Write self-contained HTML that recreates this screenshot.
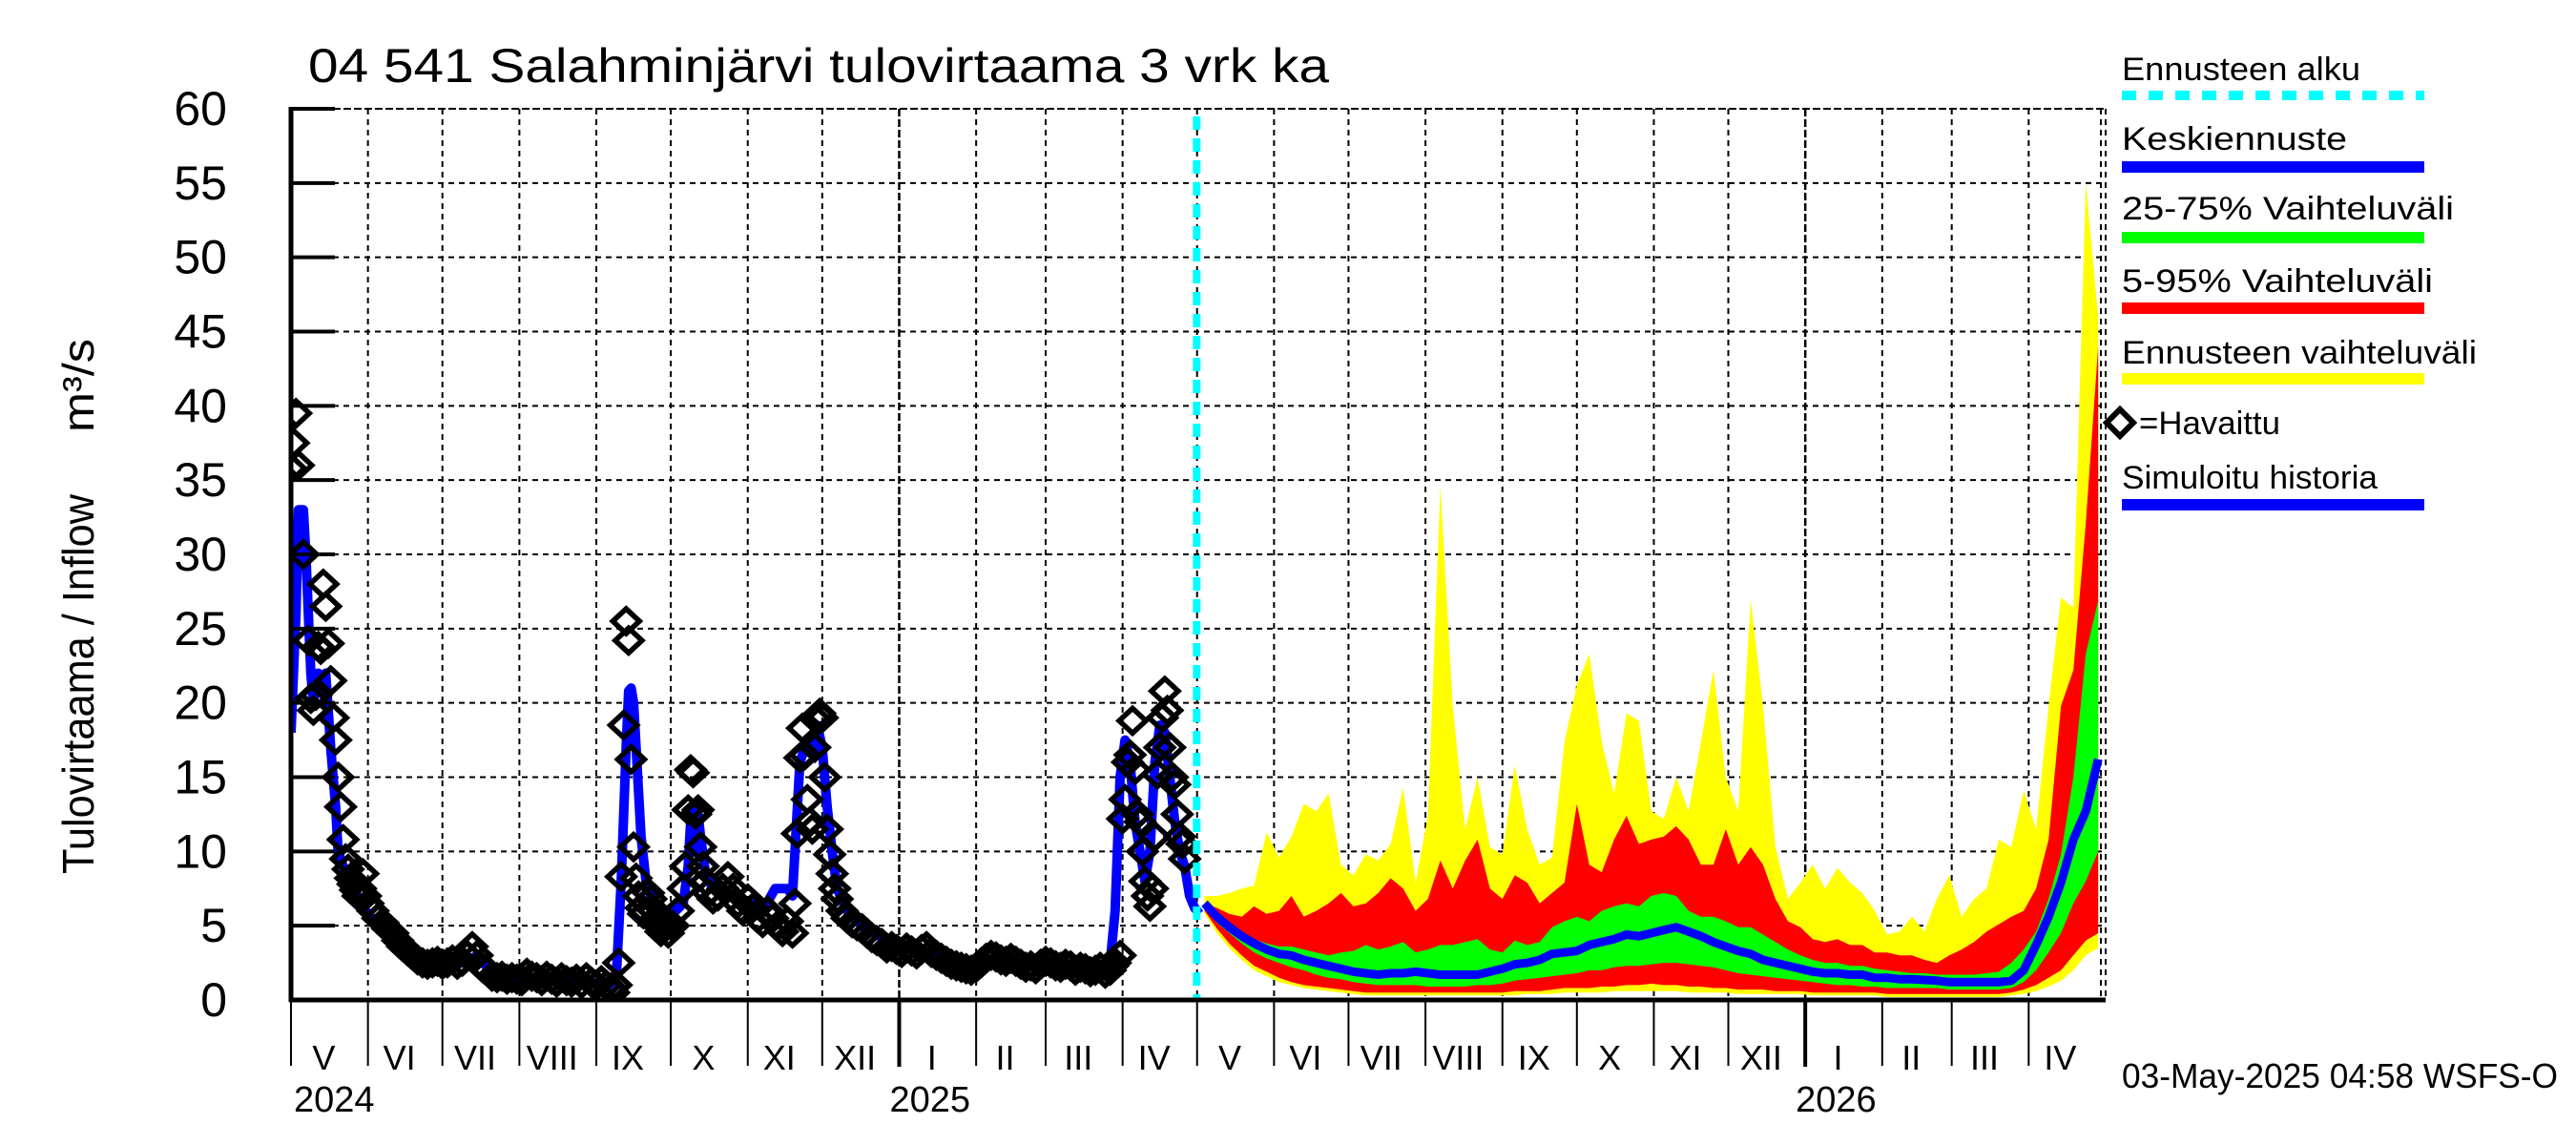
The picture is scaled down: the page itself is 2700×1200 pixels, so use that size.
<!DOCTYPE html>
<html><head><meta charset="utf-8">
<style>
html,body{margin:0;padding:0;background:#fff;}
svg{display:block;font-family:"Liberation Sans",sans-serif;}
</style></head>
<body>
<svg id="chart" width="2700" height="1200" viewBox="0 0 2700 1200" xmlns="http://www.w3.org/2000/svg">
<rect x="0" y="0" width="2700" height="1200" fill="#fff"/>
<defs><clipPath id="plotclip"><rect x="305" y="114" width="1902" height="934"/></clipPath></defs>
<text x="323" y="86" font-size="50" textLength="1070" lengthAdjust="spacingAndGlyphs">04 541 Salahminjärvi tulovirtaama 3 vrk ka</text>
<text transform="translate(98,916) rotate(-90)" font-size="46" textLength="398" lengthAdjust="spacingAndGlyphs">Tulovirtaama / Inflow</text>
<text transform="translate(98,453) rotate(-90)" font-size="46" textLength="98" lengthAdjust="spacingAndGlyphs">m³/s</text>
<g id="grid"></g>
<g id="bands" clip-path="url(#plotclip)"></g>
<g id="lines" clip-path="url(#plotclip)"></g>
<g id="axes"></g>
<g id="legend">
  <text x="2224" y="84" font-size="34" textLength="250" lengthAdjust="spacingAndGlyphs">Ennusteen alku</text>
  <line x1="2224" y1="100" x2="2541" y2="100" stroke="#00ffff" stroke-width="10" stroke-dasharray="15 13"/>
  <text x="2224" y="157" font-size="34" textLength="236" lengthAdjust="spacingAndGlyphs">Keskiennuste</text>
  <rect x="2224" y="169" width="317" height="12" fill="#0000ff"/>
  <text x="2224" y="230" font-size="34" textLength="348" lengthAdjust="spacingAndGlyphs">25-75% Vaihteluväli</text>
  <rect x="2224" y="243" width="317" height="12" fill="#00ff00"/>
  <text x="2224" y="306" font-size="34" textLength="326" lengthAdjust="spacingAndGlyphs">5-95% Vaihteluväli</text>
  <rect x="2224" y="317" width="317" height="12" fill="#ff0000"/>
  <text x="2224" y="381" font-size="34" textLength="372" lengthAdjust="spacingAndGlyphs">Ennusteen vaihteluväli</text>
  <rect x="2224" y="391" width="317" height="12" fill="#ffff00"/>
  <path d="M2222,429 L2236,443 L2222,457 L2208,443 Z" fill="none" stroke="#000" stroke-width="6"/>
  <text x="2242" y="455" font-size="34" textLength="148" lengthAdjust="spacingAndGlyphs">=Havaittu</text>
  <text x="2224" y="512" font-size="34" textLength="268" lengthAdjust="spacingAndGlyphs">Simuloitu historia</text>
  <rect x="2224" y="523" width="317" height="12" fill="#0000ff"/>
</g>
<text x="2224" y="1140" font-size="36" textLength="457" lengthAdjust="spacingAndGlyphs">03-May-2025 04:58 WSFS-O</text>
</svg>
<script>
// ---- data ----
const yTicks = [0,5,10,15,20,25,30,35,40,45,50,55,60];
const monthLabels = ['V','VI','VII','VIII','IX','X','XI','XII','I','II','III','IV','V','VI','VII','VIII','IX','X','XI','XII','I','II','III','IV'];
const yearLabels = ['2024','2025','2026'];
const forecastStartDay = 366;

const obsDays = [0,1,2,3,5,7,8,9,10,11,12,13,14,15,16,17,18,19,20,21,22,23,24,25,26,27,28,29,30,31,33,35,37,39,41,43,45,47,49,51,53,55,57,59,61,63,65,67,69,71,73,75,77,79,81,83,85,87,89,91,93,95,97,99,101,103,105,107,109,111,113,115,117,119,121,123,125,127,129,130,131,132,133,134,135,136,137,138,139,140,141,142,143,144,145,146,147,148,149,150,151,152,154,156,158,159,160,161,162,163,164,165,166,167,168,170,172,174,176,178,180,182,184,186,188,190,192,194,196,198,200,202,203,204,205,206,207,208,209,210,211,212,213,214,215,216,217,218,219,220,222,224,226,228,230,232,234,236,238,240,242,244,246,248,250,252,254,256,258,260,262,264,266,268,270,272,274,276,278,280,282,284,286,288,290,292,294,296,298,300,302,304,306,308,310,312,314,316,318,320,322,324,326,328,330,331,332,334,335,336,337,338,339,340,341,342,343,344,345,346,347,348,349,350,351,352,353,354,355,356,357,358,359,360];
const obsVals = [35.8,37.5,39.5,36,30,24.2,20.3,19.5,20.5,23.8,23.6,28,26.5,24,21.5,19,17.5,15,13,10.8,9.5,8.8,8.2,7.8,7.4,7,7.5,8.5,7,6.5,6,5.5,5.2,4.8,4.5,4,3.6,3.3,3,2.7,2.5,2.4,2.5,2.6,2.4,2.5,2.7,2.4,2.6,3,3.6,3,2.2,2,1.6,1.5,1.6,1.4,1.5,1.4,1.3,1.8,1.6,1.5,1.3,1.6,1.4,1.2,1.5,1.3,1.2,1.4,1.1,1.5,1.2,1,1.3,1,0.8,0.5,1,2.5,8.3,18.5,25.5,24.2,16.2,10.3,8.2,7,6.2,5.8,6.5,7.2,6.8,6,5.5,5,4.6,5.5,5,4.5,5,6,7.5,9,12.8,15.5,15.3,12.5,12.8,10.3,9,8,7.2,6.8,7,7.5,8.3,7.5,6.5,6,6.8,6.2,5.5,5.2,6,5.5,5,4.6,5.3,4.5,6.5,11.2,16.3,18.3,16.5,13.5,12,11.5,17,18.8,19.3,19,15,11.5,9.8,8.5,7.5,6.8,6,5.5,5.2,5,4.8,4.5,4.2,4,3.8,3.5,3.6,3.4,3.2,3.5,3.3,3.1,3.4,3.6,3.2,3,2.8,2.6,2.4,2.3,2.2,2.1,2,2.2,2.5,2.8,3,2.9,2.7,2.6,2.8,2.6,2.4,2.2,2.3,2.1,2.4,2.6,2.5,2.3,2.2,2.4,2.3,2,2.2,2.1,1.9,2,2.2,1.8,2,2.3,2.5,3,12.2,13.5,16,16.5,18.8,15.5,12.5,12,10,8,7,6.3,7.5,11,15.2,17,19,20.8,19.5,17,15,14.5,12.5,11,10.5,9.5,10];

const simDays = [0,2,3,5,6,8,9,11,12,14,16,18,19,21,25,30,35,40,45,50,55,60,70,75,80,90,100,110,120,128,131,133,135,136,137,138,140,141,143,145,150,155,158,160,161,162,163,164,165,167,170,180,190,195,200,202,203,205,207,210,212,214,216,218,220,224,230,240,250,260,270,280,290,300,310,320,330,332,334,336,338,340,342,344,346,348,350,352,354,356,358,360,362,364,366];
const simVals = [18,26,33,33,30,22,20,22,21,22,17,13,10,9,7.5,6,5,4,3.5,3,2.5,2.5,2.5,3,2,1.5,1.5,1.3,1.2,1,1.5,8,17,20.8,21,20,14,11,8,7,6,6,6.5,9,12,13,10,12.5,11,8.5,7.5,7,6,7.5,7.5,7,10,16,17,16.5,18.5,17,13,10,7.5,6,5,4,3.5,3,2.5,2.5,2.5,2.5,2.3,2,2.5,6,15,17.5,16,12,10,8,10,16,18.5,18,15,12,10,9,7,6.2,5.8];

const fcDays = [368,373,378,383,388,393,398,403,408,413,418,423,428,433,438,443,448,453,458,463,468,473,478,483,488,493,498,503,508,513,518,523,528,533,538,543,548,553,558,563,568,573,578,583,588,593,598,603,608,613,618,623,628,633,638,643,648,653,658,663,668,673,678,683,688,693,698,703,708,713,718,723,728];
const fcMax = [7,7,7.2,7.5,7.7,11.3,9.6,11,13.2,12.7,13.9,9.1,8.4,9.8,9.4,10.5,14.3,7.9,12.4,34.6,19.8,11.5,15,10.3,9.8,15.8,11.5,9.1,9.6,17.4,21.2,23.3,17.4,13.9,19.3,18.8,12.7,12.2,15,12.7,17.4,22.2,15,12.7,26.9,19.8,10.3,6.8,7.9,9.1,7.5,8.9,7.9,7.2,6,4.4,4.6,5.6,4.6,6.8,8.4,5.6,6.8,7.5,10.8,10.3,14.1,11.5,19.8,27.1,26.4,55,46];
const fcP95 = [6.5,6.2,5.8,5.6,6.3,5.8,6,7,5.6,6,6.5,7.2,6.3,6.5,7.2,8.2,7.5,6,6.8,9.4,7.5,9.4,10.8,7.5,6.8,8.4,7.9,6.5,7.2,7.9,13.2,9.1,8.6,10.8,12.4,10.5,10.8,11,11.7,10.8,9.1,9.1,11.5,9.1,10.3,9.1,6.8,5.3,4.9,4.1,3.9,4.1,3.7,3.7,3.2,3.2,3,3,2.7,2.5,3,3.4,3.9,4.6,5.1,5.6,6,7.5,10.8,19.8,22.2,32.1,44];
const fcP75 = [6.3,5.6,5.1,4.6,4.1,3.8,3.6,3.6,3.4,3.2,3,3.2,3.3,3.7,3.4,3.6,3.9,3.2,3.4,3.7,3.7,3.9,4.1,3.4,3.2,4,3.7,3.9,4.9,5.3,5.6,5.3,6,6.3,6.5,6.3,7,7.2,7,6,5.6,5.6,5.3,4.9,4.9,4.4,3.9,3.4,3,2.7,2.5,2.5,2.3,2.3,2.1,2,1.9,1.8,1.8,1.7,1.7,1.7,1.7,1.8,1.9,2.5,3.4,4.6,6.8,9.8,15,23.3,26.9];
const fcMedian = [6.5,5.6,4.9,4.3,3.8,3.4,3.1,3,2.7,2.5,2.3,2.1,1.9,1.8,1.7,1.8,1.8,1.9,1.8,1.7,1.7,1.7,1.7,1.9,2.1,2.4,2.5,2.7,3.1,3.2,3.3,3.7,3.9,4.1,4.4,4.3,4.5,4.7,4.9,4.6,4.3,3.9,3.6,3.3,3.1,2.7,2.5,2.3,2.1,1.9,1.8,1.8,1.7,1.7,1.5,1.5,1.4,1.4,1.35,1.3,1.2,1.2,1.2,1.2,1.2,1.3,2,3.7,5.6,7.9,10.8,12.7,16.2];
const fcP25 = [6.2,5.2,4.5,3.8,3.2,2.8,2.5,2.2,2,1.7,1.5,1.4,1.2,1.1,1,1,1,1,0.9,0.9,0.9,0.9,1,1,1.1,1.3,1.4,1.5,1.6,1.7,1.8,2,2,2.2,2.3,2.3,2.4,2.5,2.5,2.4,2.3,2.2,2,1.8,1.7,1.6,1.5,1.4,1.3,1.2,1.1,1,1,0.9,0.9,0.8,0.8,0.8,0.8,0.8,0.7,0.7,0.7,0.7,0.7,0.8,1.2,2,3.2,4.5,6.5,8,10];
const fcP5 = [6,4.8,3.8,3,2.3,1.9,1.5,1.2,1,0.9,0.8,0.7,0.6,0.5,0.5,0.5,0.5,0.5,0.5,0.5,0.5,0.5,0.5,0.5,0.5,0.6,0.6,0.6,0.7,0.8,0.8,0.8,0.9,0.9,1,1,1.1,1,1,0.9,0.9,0.8,0.8,0.7,0.7,0.7,0.6,0.6,0.6,0.5,0.5,0.5,0.5,0.5,0.5,0.4,0.4,0.4,0.4,0.4,0.4,0.4,0.4,0.4,0.4,0.5,0.7,1,1.5,2,3,4,4.5];
const fcMin = [5.8,4.5,3.5,2.7,2,1.6,1.2,1,0.8,0.7,0.6,0.5,0.4,0.3,0.3,0.3,0.3,0.3,0.3,0.3,0.3,0.3,0.3,0.3,0.3,0.3,0.4,0.4,0.4,0.5,0.5,0.5,0.5,0.6,0.6,0.6,0.6,0.6,0.6,0.5,0.5,0.5,0.5,0.4,0.4,0.4,0.4,0.4,0.4,0.3,0.3,0.3,0.3,0.3,0.3,0.2,0.2,0.2,0.2,0.2,0.2,0.2,0.2,0.2,0.2,0.3,0.4,0.6,0.9,1.3,2,3,3.5];

// ---- axes ----
const X0 = 305, X1 = 2207, Y0 = 1048, Y1 = 114, DAYMAX = 731;
const NS = 'http://www.w3.org/2000/svg';
function xs(d){ return X0 + (X1 - X0) * d / DAYMAX; }
function ys(v){ return Y0 - (Y0 - Y1) * v / 60; }
function mk(tag, attrs, parent){
  const e = document.createElementNS(NS, tag);
  for (const k in attrs) e.setAttribute(k, attrs[k]);
  parent.appendChild(e);
  return e;
}
const grid = document.getElementById('grid');
const axes = document.getElementById('axes');
const bands = document.getElementById('bands');
const lines = document.getElementById('lines');
const base = Date.UTC(2024,4,1);
function dayOf(y,m){ return (Date.UTC(y,m,1) - base) / 86400000; }

yTicks.forEach(function(v){
  const y = ys(v);
  if (v > 0) {
    const g = mk('line', {x1:X0, y1:y, x2:X1, y2:y, stroke:'#000', 'stroke-width':2, 'stroke-dasharray':'6 5'}, grid);
    
    
    const t = mk('line', {x1:X0, y1:y, x2:X0+46, y2:y, stroke:'#000', 'stroke-width':4}, axes);
    
    
  }
  const lbl = mk('text', {x:238, y:y+17, 'font-size':50, 'text-anchor':'end'}, axes);
  lbl.textContent = String(v);
  
  
});

for (let i = 0; i < monthLabels.length; i++) {
  const yr = 2024 + Math.floor((4 + i) / 12);
  const mo = (4 + i) % 12;
  const d0 = dayOf(yr, mo);
  const d1 = Math.min(dayOf(yr + Math.floor((mo + 1) / 12), (mo + 1) % 12), DAYMAX);
  const x = xs(d0);
  const isYear = mo === 0;
  if (i > 0) {
    const g = mk('line', {x1:x, y1:Y1, x2:x, y2:Y0, stroke:'#000', 'stroke-width':isYear?2.5:2, 'stroke-dasharray':isYear?'8 3':'6 5'}, grid);
    
    
  }
  const tk = mk('line', {x1:x, y1:Y0, x2:x, y2:isYear?1118:1117, stroke:'#000', 'stroke-width':isYear?4:2}, axes);
  
  
  const ml = mk('text', {x:(x + xs(d1)) / 2 - 6, y:1121, 'font-size':36, 'text-anchor':'middle'}, axes);
  ml.textContent = monthLabels[i];
  
  
}
const endTick = mk('line', {x1:xs(DAYMAX)-5, y1:Y1, x2:xs(DAYMAX)-5, y2:Y0, stroke:'#000', 'stroke-width':2, 'stroke-dasharray':'6 5'}, grid);


const topLine = mk('line', {x1:X0+46, y1:Y1, x2:X1, y2:Y1, stroke:'#000', 'stroke-width':2, 'stroke-dasharray':'6 5'}, grid);


const rightLine = mk('line', {x1:X1, y1:Y1, x2:X1, y2:Y0, stroke:'#000', 'stroke-width':2, 'stroke-dasharray':'6 5'}, grid);



yearLabels.forEach(function(lab, i){
  const d = i === 0 ? 0 : dayOf(2024 + i, 0);
  const t = mk('text', {x:xs(d) + (i === 0 ? 3 : -10), y:1165, 'font-size':38}, axes);
  t.textContent = lab;
  
  
});

function bandPath(upper, lower){
  let p = '';
  for (let i = 0; i < fcDays.length; i++) p += (i ? 'L' : 'M') + xs(fcDays[i]).toFixed(1) + ',' + ys(upper[i]).toFixed(1);
  for (let i = fcDays.length - 1; i >= 0; i--) p += 'L' + xs(fcDays[i]).toFixed(1) + ',' + ys(lower[i]).toFixed(1);
  return p + 'Z';
}
const bY = mk('path', {d:bandPath(fcMax, fcMin), fill:'#ffff00'}, bands);


const bR = mk('path', {d:bandPath(fcP95, fcP5), fill:'#ff0000'}, bands);


const bG = mk('path', {d:bandPath(fcP75, fcP25), fill:'#00ff00'}, bands);



function linePath(ds, vs){
  let p = '';
  for (let i = 0; i < ds.length; i++) p += (i ? 'L' : 'M') + xs(ds[i]).toFixed(1) + ',' + ys(vs[i]).toFixed(1);
  return p;
}
const med = mk('path', {d:linePath(fcDays, fcMedian), fill:'none', stroke:'#0000ff', 'stroke-width':9, 'stroke-linejoin':'round'}, lines);


const sim = mk('path', {d:linePath(simDays, simVals), fill:'none', stroke:'#0000ff', 'stroke-width':10, 'stroke-linejoin':'round'}, lines);



for (let i = 0; i < obsDays.length; i++) {
  const cx = xs(obsDays[i]), cy = ys(obsVals[i]);
  const dm = mk('path', {d:'M'+cx+','+(cy-13)+'L'+(cx+14)+','+cy+'L'+cx+','+(cy+13)+'L'+(cx-14)+','+cy+'Z', fill:'none', stroke:'#000', 'stroke-width':5.5}, lines);
  
  
}

const fs = mk('line', {x1:xs(forecastStartDay)-3, y1:Y1+8, x2:xs(forecastStartDay)-3, y2:Y0, stroke:'#00ffff', 'stroke-width':8, 'stroke-dasharray':'14 9'}, lines);



const ax1 = mk('line', {x1:X0, y1:Y1-2, x2:X0, y2:Y0+2, stroke:'#000', 'stroke-width':5}, axes);


const ax2 = mk('line', {x1:X0-2, y1:Y0, x2:X1, y2:Y0, stroke:'#000', 'stroke-width':5}, axes);


</script>
</body></html>
